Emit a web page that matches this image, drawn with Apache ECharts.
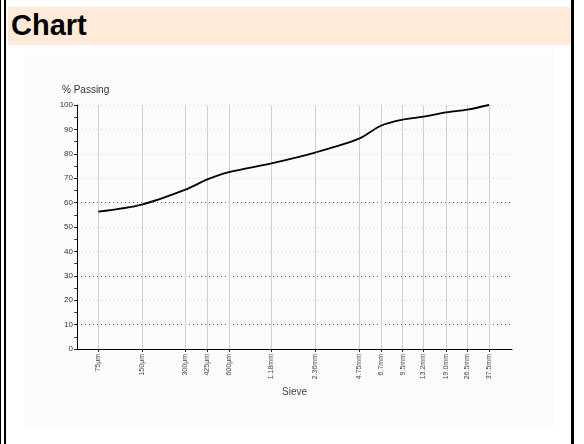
<!DOCTYPE html>
<html>
<head>
<meta charset="utf-8">
<script src="https://cdn.jsdelivr.net/npm/echarts@6/dist/echarts.min.js"></script>
<style>
  html, body { margin: 0; padding: 0; background: #fff; }
  #page { position: relative; width: 584px; height: 444px; overflow: hidden; background: #fff; }
  .rule { position: absolute; top: 0; bottom: 0; background: #000; }
  #header { position: absolute; left: 8px; top: 7px; width: 563px; height: 38px; background: #FFEBD7; }
  #header span { position: absolute; left: 3px; top: 2px; font: bold 29px "Liberation Sans", Arial, sans-serif; color: #000; }
  #panel { position: absolute; left: 24px; top: 50px; width: 530px; height: 377px; background: #FCFCFC; }
  #chart { position: absolute; left: 0; top: 0; width: 584px; height: 444px; }
</style>
</head>
<body>
<div id="page">
  <div class="rule" style="left:0;width:1px"></div>
  <div class="rule" style="left:4px;width:2px"></div>
  <div class="rule" style="left:571px;width:3px"></div>
  <div id="header"><span>Chart</span></div>
  <div id="panel"></div>
  <div id="chart"></div>
</div>
<script>
// Sieve sizes in mm and their labels
const sieveSizes = [0.075, 0.15, 0.3, 0.425, 0.6, 1.18, 2.36, 4.75, 6.7, 9.5, 13.2, 19.0, 26.5, 37.5];
const sieveLabels = ['75µm', '150µm', '300µm', '425µm', '600µm', '1.18mm', '2.36mm', '4.75mm',
                     '6.7mm', '9.5mm', '13.2mm', '19.0mm', '26.5mm', '37.5mm'];
// Cumulative percentage passing each sieve
const percentPassing = [56.3, 59.2, 65.3, 69.5, 72.5, 76.1, 80.5, 86.2, 91.5, 94.0, 95.2, 97.0, 98.1, 100];

const labelOf = {};
sieveSizes.forEach((s, i) => { labelOf[s] = sieveLabels[i]; });

const chart = echarts.init(document.getElementById('chart'), null, { renderer: 'canvas' });

// Grid lines at 10, 30 and 60 are stronger than the rest
const hGridColors = ['#d8d8d8', '#666', '#d6d6d6', '#666', '#d6d6d6', '#d6d6d6', '#666',
                     '#d6d6d6', '#d6d6d6', '#d6d6d6', '#d6d6d6'];

chart.setOption({
  animation: false,
  backgroundColor: 'transparent',
  grid: { left: 77, right: 72, top: 105, bottom: 95, containLabel: false },
  xAxis: {
    type: 'log',
    logBase: 10,
    min: 0.0535,
    max: 54,
    name: 'Sieve',
    nameLocation: 'middle',
    nameGap: 38,
    nameTextStyle: { fontFamily: 'Liberation Sans', fontSize: 10, color: '#444' },
    axisLine: { show: true, onZero: false, lineStyle: { color: '#000', width: 1 } },
    axisTick: { show: true, length: 3, lineStyle: { color: '#222' }, customValues: sieveSizes },
    axisLabel: {
      customValues: sieveSizes,
      rotate: 90,
      margin: 5,
      fontFamily: 'Liberation Sans',
      fontSize: 7,
      color: '#444',
      formatter: v => labelOf[v] !== undefined ? labelOf[v] : ''
    },
    splitLine: { show: true, lineStyle: { color: '#d0d0d0', width: 1, type: 'solid' } },
    minorTick: { show: false },
    minorSplitLine: { show: false }
  },
  yAxis: {
    type: 'value',
    min: 0,
    max: 100,
    interval: 10,
    name: '% Passing',
    nameLocation: 'end',
    nameGap: 10,
    nameTextStyle: { fontFamily: 'Liberation Sans', fontSize: 10, color: '#333', align: 'left', padding: [0, 0, 0, -15] },
    axisLine: { show: true, lineStyle: { color: '#000', width: 1 } },
    axisTick: { show: true, length: 3, lineStyle: { color: '#222' } },
    minorTick: { show: true, splitNumber: 2, length: 3, lineStyle: { color: '#444' } },
    axisLabel: { fontFamily: 'Liberation Sans', fontSize: 8, color: '#333', margin: 4 },
    splitLine: { show: true, lineStyle: { color: hGridColors, width: 1, type: [1, 3] } }
  },
  series: [{
    type: 'line',
    data: sieveSizes.map((s, i) => [s, percentPassing[i]]),
    showSymbol: false,
    smooth: 0.3,
    lineStyle: { color: '#000', width: 1.8 },
    z: 5
  }]
});
</script>
</body>
</html>
